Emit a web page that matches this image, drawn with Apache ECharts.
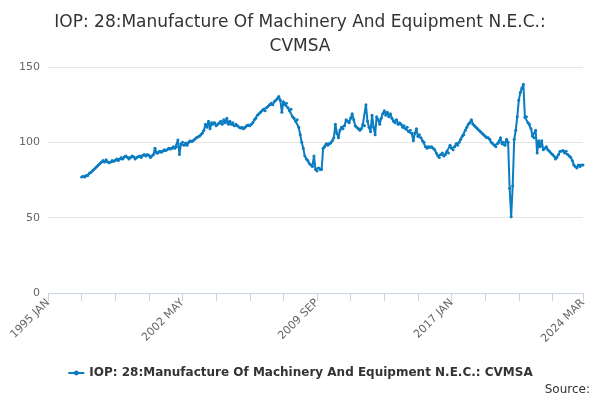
<!DOCTYPE html>
<html><head><meta charset="utf-8">
<script src="https://cdn.jsdelivr.net/npm/echarts@6/dist/echarts.min.js"></script>
<style>html,body{margin:0;padding:0;}#main{width:600px;height:400px;}</style>
</head><body><div id="main"></div>
<script>
var seriesName = 'IOP: 28:Manufacture Of Machinery And Equipment N.E.C.: CVMSA';
var startYear = 1995;
var firstDataIndex = 22; // 1996 NOV
// monthly values, 1996 Nov .. 2024 Mar
var v1996 = [77, 77.5];
var v1997 = [77, 78, 78, 79.5, 80, 81, 82, 83, 84, 85, 86, 87];
var v1998 = [88, 87, 88.5, 87, 86.5, 87, 88, 87.5, 88, 89, 88, 89];
var v1999 = [90, 89, 90.5, 91, 90, 89, 90, 91, 90.5, 89, 90, 90.5];
var v2000 = [91, 90, 91.5, 92, 91, 92, 91.5, 90, 91, 92, 96, 93];
var v2001 = [93, 94, 93.5, 94, 95, 94.5, 95, 96, 95.5, 96, 97, 96];
var v2002 = [97, 101.5, 92, 99, 100, 98, 99.5, 98, 100, 101, 100.5, 101];
var v2003 = [102, 103, 103.5, 104, 105, 106, 108, 112, 110, 114, 109, 113];
var v2004 = [112, 113, 111, 112, 113, 114, 112, 115, 113, 116, 112, 114];
var v2005 = [112, 113, 111, 112, 111, 110, 109.5, 110, 109, 110, 111, 111.5];
var v2006 = [111, 112, 113, 115, 116, 118, 119, 120, 121, 122, 121, 123];
var v2007 = [124, 125, 126, 125, 127, 128, 129, 130.5, 128, 120, 127, 125];
var v2008 = [126, 123, 121, 122, 117, 116, 114, 115, 110, 105, 100, 96];
var v2009 = [91, 89, 88, 86, 85, 84, 91, 82, 81, 83, 82, 82];
var v2010 = [96, 97, 99, 98, 99, 99.5, 101, 103, 112, 106, 103, 108];
var v2011 = [110, 109, 111, 115, 114, 113, 116, 119, 115, 111, 110, 109];
var v2012 = [108, 109, 112, 111, 125, 114, 110, 107, 118, 110, 105, 117];
var v2013 = [115, 112, 116, 119, 121, 118, 120, 117, 119, 116, 114, 113];
var v2014 = [115, 112, 113, 112, 110, 111, 109, 110, 107, 108, 106, 101];
var v2015 = [106, 109, 104, 105, 103, 101, 100, 97, 96, 97, 96.5, 97];
var v2016 = [96, 95, 93, 91, 90, 92, 93, 91, 92, 94, 93, 98];
var v2017 = [96, 95, 97, 99, 98, 100, 102, 104, 105, 108, 110, 112];
var v2018 = [113, 115, 112, 111, 110, 109, 108, 107, 106, 105, 104, 103];
var v2019 = [103, 102, 100, 99, 98, 97, 99, 100, 103, 99, 100, 98];
var v2020 = [102, 100, 69.5, 50.6, 71, 102, 108, 117, 128, 133, 136, 138.5];
var v2021 = [116.6, 117, 113, 112, 109, 104, 103, 108, 93, 101, 97, 101];
var v2022 = [95, 96, 97, 95, 94, 93, 92, 91, 89, 90, 92, 94];
var v2023 = [94, 94.5, 93, 94, 92, 91, 90, 88, 85, 84, 83, 85];
var v2024 = [84, 85, 85];

var months = ['JAN','FEB','MAR','APR','MAY','JUN','JUL','AUG','SEP','OCT','NOV','DEC'];
var categories = [];
for (var y = startYear; y <= 2024; y++) {
    for (var m = 0; m < 12; m++) {
        categories.push(y + ' ' + months[m]);
        if (y == 2024 && m == 2) break;
    }
}
var values = [].concat(v1996, v1997, v1998, v1999, v2000, v2001, v2002, v2003, v2004, v2005,
    v2006, v2007, v2008, v2009, v2010, v2011, v2012, v2013, v2014, v2015, v2016, v2017,
    v2018, v2019, v2020, v2021, v2022, v2023, v2024);
var data = [];
for (var i = 0; i < categories.length; i++) {
    data.push(i < firstDataIndex ? null : values[i - firstDataIndex]);
}
var lastIndex = categories.length - 1;

var myChart = echarts.init(document.getElementById('main'));
myChart.setOption({
    animation: false,
    title: {
        text: 'IOP: 28:Manufacture Of Machinery And Equipment N.E.C.:\nCVMSA',
        left: 'center', top: 6,
        textStyle: { fontSize: 17, fontWeight: 'normal', color: '#333', lineHeight: 24, fontFamily: 'DejaVu Sans' }
    },
    grid: { left: 48, right: 17, top: 67, bottom: 107 },
    legend: {
        bottom: 16, left: 'center',
        itemWidth: 16, itemHeight: 6,
        textStyle: { fontSize: 12, fontWeight: 'bold', color: '#333', fontFamily: 'DejaVu Sans' },
        data: [seriesName]
    },
    graphic: [{ type: 'text', right: 10, bottom: 4, style: { text: 'Source:', fontSize: 12, fill: '#333', fontFamily: 'DejaVu Sans' } }],
    xAxis: {
        type: 'category', data: categories, boundaryGap: false,
        axisLine: { lineStyle: { color: '#c8d4e6' } },
        axisTick: { interval: function (i) { return i % 22 == 0 || i == lastIndex; }, length: 8, lineStyle: { color: '#c8d4e6' } },
        axisLabel: {
            interval: function (i) { return i % 88 == 0 || i == lastIndex; },
            rotate: 45, fontSize: 11, color: '#666', fontFamily: 'DejaVu Sans'
        }
    },
    yAxis: {
        type: 'value', min: 0, max: 150, interval: 50,
        axisLabel: { fontSize: 11, color: '#666', fontFamily: 'DejaVu Sans' },
        splitLine: { lineStyle: { color: '#e6e6e6' } }
    },
    series: [{
        name: seriesName, type: 'line', data: data,
        symbol: 'circle', symbolSize: 3, showAllSymbol: true,
        itemStyle: { color: '#0a7cc1' },
        lineStyle: { width: 2, color: '#0a7cc1' }
    }]
});
</script></body></html>
